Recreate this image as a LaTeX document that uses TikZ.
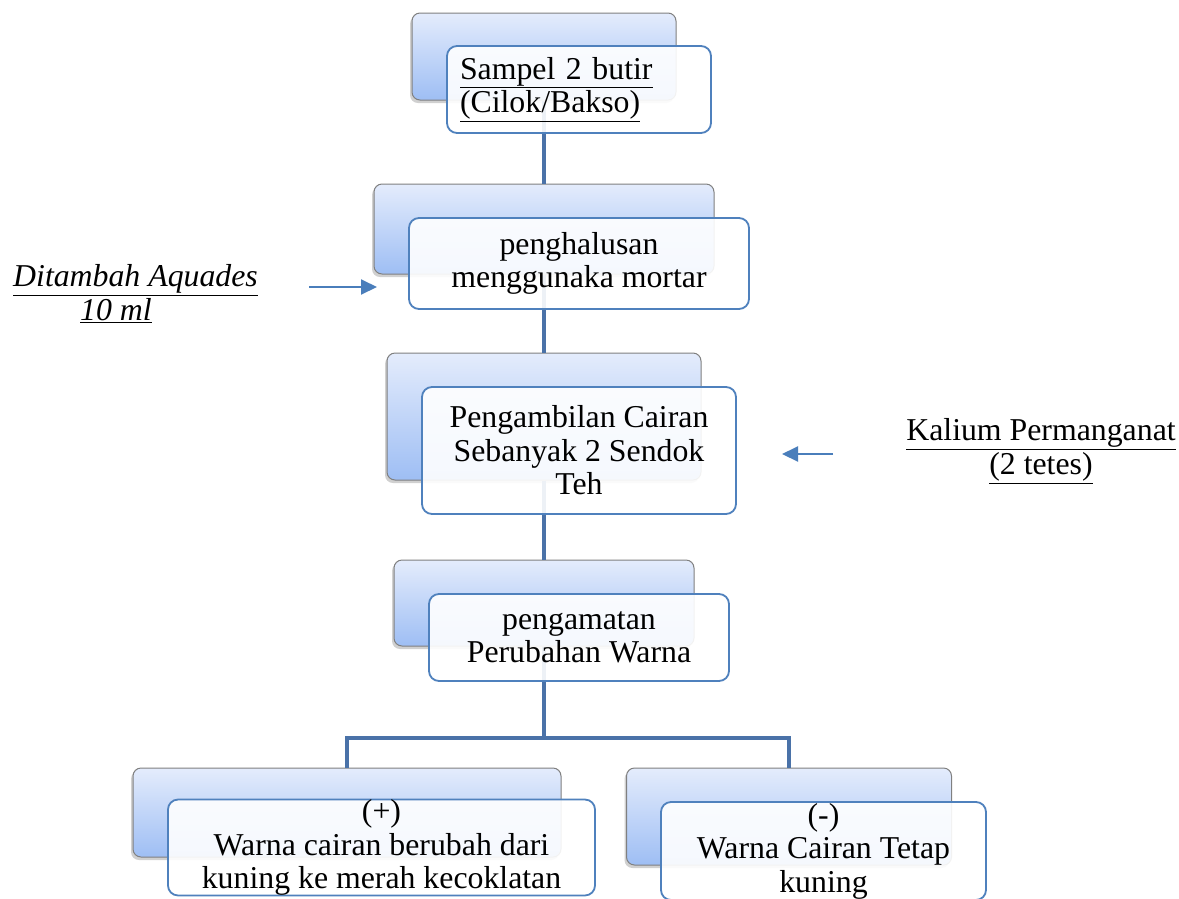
\documentclass[tikz,border=0pt]{standalone}
\usepackage{fontspec}
\setmainfont{Liberation Serif}
\usetikzlibrary{shadows,arrows.meta}
\definecolor{linkblue}{RGB}{74,114,168}
\definecolor{frontborder}{RGB}{79,129,189}
\definecolor{arrowblue}{RGB}{74,126,187}
\definecolor{backtop}{RGB}{228,236,252}
\definecolor{backbot}{RGB}{158,190,244}
\definecolor{backborder}{RGB}{128,128,128}
\tikzset{
  backbox/.style={draw=backborder, line width=1pt, rounded corners=8pt,
    top color=backtop, bottom color=backbot, inner sep=0pt,
    drop shadow={shadow xshift=-2pt, shadow yshift=-3pt, opacity=0.3, fill=black!60}},
  frontbox/.style={draw=frontborder, line width=1.8pt, rounded corners=10pt,
    fill=white, fill opacity=0.9, text opacity=1, inner sep=0pt, align=center,
    font=\fontsize{31.8}{33.5}\selectfont},
  link/.style={draw=linkblue, line width=4pt},
  sidearrow/.style={draw=arrowblue, line width=2pt, -{Triangle[length=16pt,width=15pt]}},
  lbl/.style={inner sep=0pt, font=\fontsize{31.8}{34}\selectfont}
}
\begin{document}
\begin{tikzpicture}[x=1pt,y=-1pt]
\clip (0,0) rectangle (1179,898);
\fill[white] (0,0) rectangle (1179,898);
% back boxes
\node[backbox, minimum width=264pt, minimum height=87pt] (b1) at (544,56.5) {};
\node[backbox, minimum width=340pt, minimum height=90pt] (b2) at (544,229) {};
\node[backbox, minimum width=314pt, minimum height=127pt] (b3) at (544,416.5) {};
\node[backbox, minimum width=300pt, minimum height=86pt] (b4) at (544,603) {};
\node[backbox, minimum width=428pt, minimum height=89pt] (b5) at (347,812.5) {};
\node[backbox, minimum width=325pt, minimum height=97pt] (b6) at (789,816.5) {};
% connectors
\coordinate (split) at (544,738);
\draw[link] (b1.south) -- (b2.north);
\draw[link] (b2.south) -- (b3.north);
\draw[link] (b3.south) -- (b4.north);
\draw[link] (b4.south) -- (split);
\draw[link] (b5.north) |- (split) -| (b6.north);
% front boxes
\node[frontbox, minimum width=264pt, minimum height=87pt, text width=238pt, align=left] (f1) at (579,89.5)
  {\fontsize{31.8}{32}\selectfont\underline{Sampel 2 butir}\\\underline{(Cilok/Bakso)}};
\node[frontbox, minimum width=340pt, minimum height=91pt] (f2) at (579,263.5)
  {penghalusan\\menggunaka mortar};
\node[frontbox, minimum width=314pt, minimum height=127pt] (f3) at (579,450.5)
  {Pengambilan Cairan\\Sebanyak 2 Sendok\\Teh};
\node[frontbox, minimum width=300pt, minimum height=87pt] (f4) at (579,637.5)
  {pengamatan\\Perubahan Warna};
\node[frontbox, minimum width=427pt, minimum height=91pt] (f5) at (381.5,847.5)
  {(+)\\Warna cairan berubah dari\\kuning ke merah kecoklatan};
\node[frontbox, minimum width=325pt, minimum height=98pt] (f6) at (823.5,851)
  {(-)\\Warna Cairan Tetap\\kuning};
% side labels
\node[lbl, anchor=west, align=left] (aq) at (13,294)
  {\itshape\underline{Ditambah Aquades}\\\hspace*{67pt}\itshape\underline{10 ml}};
\node[lbl, align=center] (km) at (1041,451)
  {\underline{Kalium Permanganat}\\\underline{(2 tetes)}};
\coordinate (a1s) at (309,287);
\coordinate (a1e) at (377,287);
\coordinate (a2s) at (833,454);
\coordinate (a2e) at (782,454);
\draw[sidearrow] (a1s) -- (a1e);
\draw[sidearrow] (a2s) -- (a2e);
\end{tikzpicture}
\end{document}
